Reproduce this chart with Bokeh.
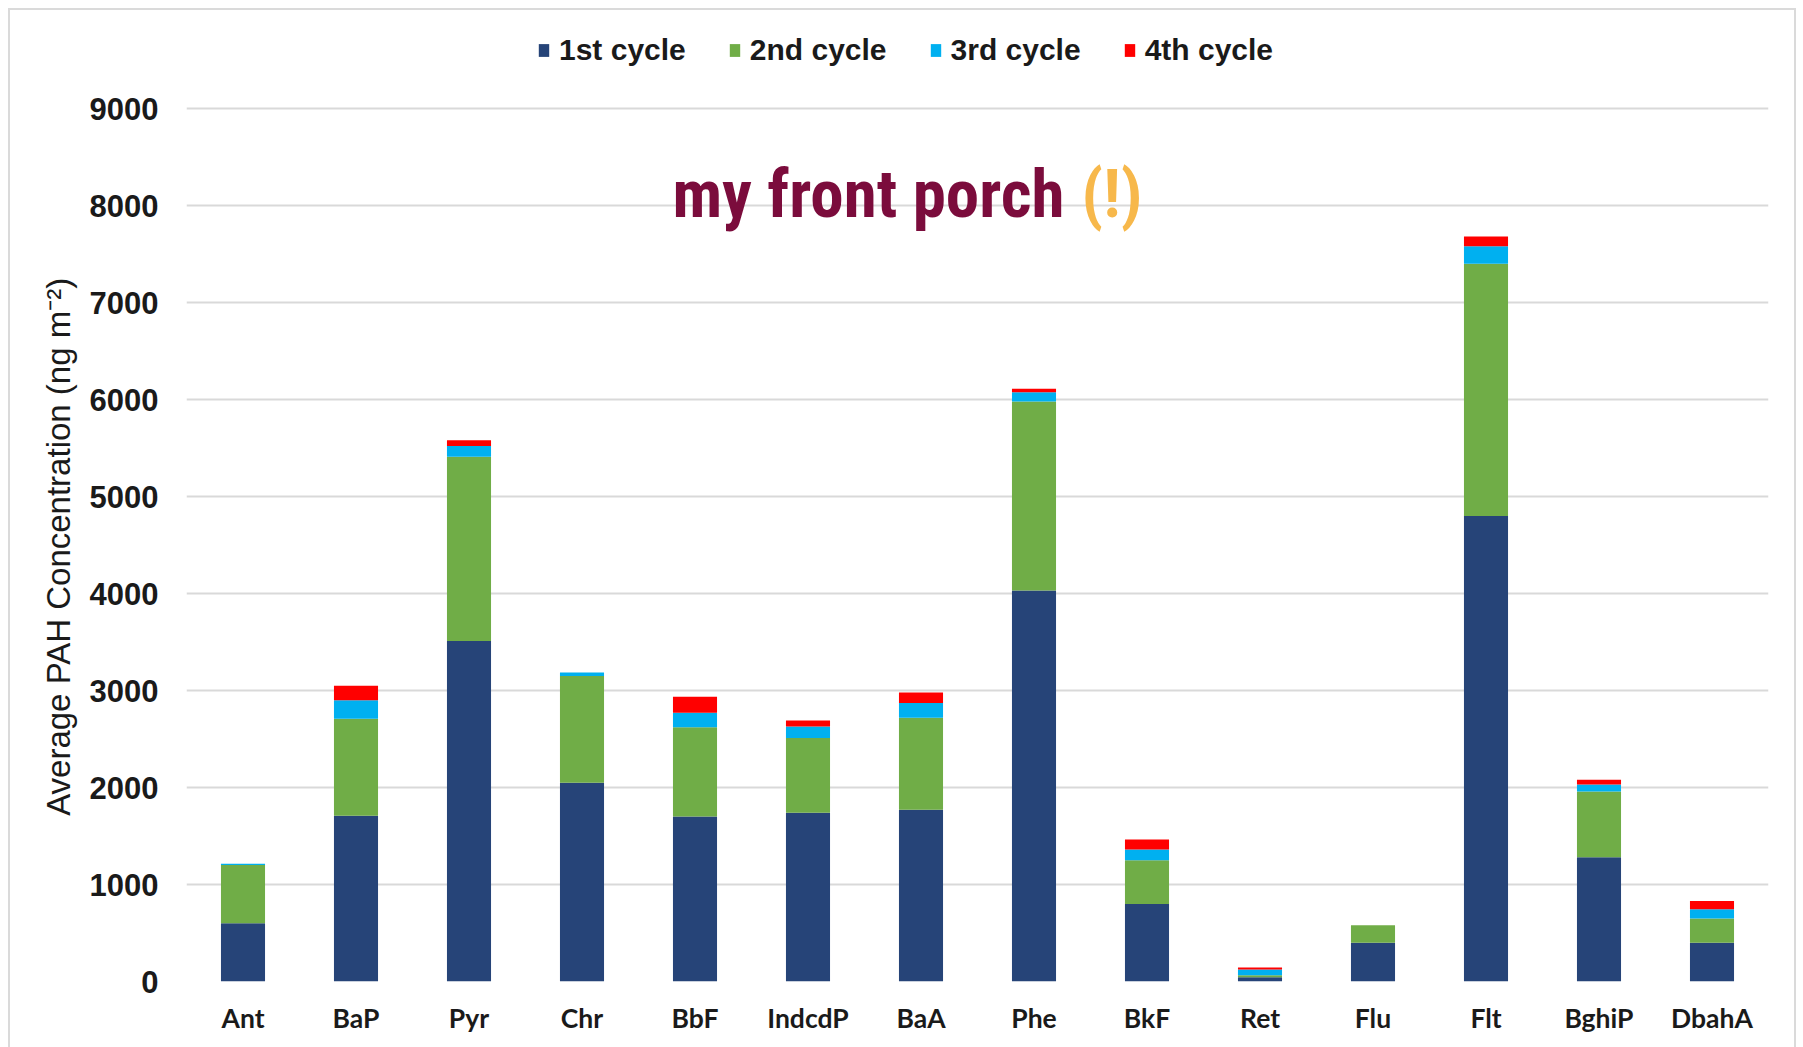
from bokeh.plotting import figure
from bokeh.models import ColumnDataSource, FactorRange, Range1d, Label, Legend, LegendItem
from bokeh.embed import file_html
from bokeh.resources import INLINE

# ---- data ----
categories = ["Ant", "BaP", "Pyr", "Chr", "BbF", "IndcdP", "BaA", "Phe",
              "BkF", "Ret", "Flu", "Flt", "BghiP", "DbahA"]
cycle1 = [600, 1710, 3510, 2050, 1700, 1740, 1770, 4030, 800, 45, 400, 4800, 1280, 400]
cycle2 = [600, 1000, 1900, 1100, 920, 770, 950, 1950, 450, 20, 180, 2600, 680, 250]
cycle3 = [15, 190, 110, 35, 150, 120, 150, 95, 110, 60, 0, 180, 70, 95]
cycle4 = [0, 150, 60, 0, 165, 60, 110, 35, 105, 20, 0, 100, 50, 85]
series_names = ["1st cycle", "2nd cycle", "3rd cycle", "4th cycle"]
y_ticks = [0, 1000, 2000, 3000, 4000, 5000, 6000, 7000, 8000, 9000]

colors = ["#264478", "#70AD47", "#00B0F0", "#FF0000"]
keys = ["c1", "c2", "c3", "c4"]

source = ColumnDataSource(dict(cat=categories, c1=cycle1, c2=cycle2, c3=cycle3, c4=cycle4))

# geometry (page pixels), figure placed OFF px in from the page corner
OFF = 10
W, H = 1784, 1037
PAGE_L, PAGE_R, PAGE_T, PAGE_B = 186, 1768, 20, 981   # plot frame on the page
GRID_9000 = 108                                        # page y of the 9000 gridline
FRAME_L, FRAME_R, FRAME_T, FRAME_B = PAGE_L - OFF, PAGE_R - OFF, PAGE_T - OFF, PAGE_B - OFF
Y_TOP = 9000 * (PAGE_B - PAGE_T) / (PAGE_B - GRID_9000)

p = figure(width=W, height=H, x_range=FactorRange(*categories), y_range=Range1d(0, Y_TOP),
           output_backend="svg", toolbar_location=None,
           min_border_left=FRAME_L, min_border_right=W - FRAME_R,
           min_border_top=FRAME_T, min_border_bottom=H - FRAME_B)
p.outline_line_color = None
p.background_fill_color = "white"
p.border_fill_color = "white"
p.styles = {"margin-left": f"{OFF}px", "margin-top": f"{OFF}px",
            "box-shadow": "0 0 0 2px #dadada"}

renderers = p.vbar_stack(keys, x="cat", width=0.39, color=colors, source=source, line_width=0)

# axes
p.xgrid.grid_line_color = None
p.ygrid.grid_line_color = "#d9d9d9"
p.ygrid.grid_line_width = 2
p.yaxis.ticker = y_ticks
for ax in (p.xaxis[0], p.yaxis[0]):
    ax.axis_line_color = None
    ax.major_tick_line_color = None
    ax.minor_tick_line_color = None
    ax.major_label_text_color = "#1a1a1a"

p.yaxis.major_label_text_font = "Liberation Sans"
p.yaxis.major_label_text_font_style = "bold"
p.yaxis.major_label_text_font_size = "31px"
p.yaxis.major_label_standoff = 22
# trailing no-break spaces keep the label centred on the 0-9000 span, not the headroom
p.yaxis.axis_label = "Average PAH Concentration (ng m\u207b\u00b2)" + "\u00a0" * 10
p.yaxis.axis_label_text_font = "Liberation Sans"
p.yaxis.axis_label_text_font_style = "normal"
p.yaxis.axis_label_text_font_size = "33px"
p.yaxis.axis_label_text_color = "#1a1a1a"
p.yaxis.axis_label_standoff = 10

p.xaxis.major_label_text_font = "Lato"
p.xaxis.major_label_text_font_style = "bold"
p.xaxis.major_label_text_font_size = "26.5px"
p.xaxis.major_label_standoff = 14

# legend in the frame's headroom above 9000
lg = Legend(items=[LegendItem(label=n, renderers=[r]) for n, r in zip(series_names, renderers)],
            orientation="horizontal", location=(537 - PAGE_L, PAGE_B - 67), margin=0, padding=0,
            spacing=42, border_line_color=None, background_fill_alpha=0,
            glyph_width=13, glyph_height=16, label_standoff=9,
            label_text_font="Liberation Sans", label_text_font_style="bold",
            label_text_font_size="30px", label_text_color="#1a1a1a")
p.add_layout(lg)

# title inside plot
title_font = "'Roboto Condensed', 'Liberation Sans Narrow', 'Roboto'"
t1 = Label(x=1064 - PAGE_L, y=PAGE_B - 193, x_units="screen", y_units="screen",
           text="my front porch", text_align="right", text_baseline="middle",
           text_font=title_font, text_font_style="bold", text_font_size="67px",
           text_color="#7B0C3C")
t2 = Label(x=1081 - PAGE_L, y=PAGE_B - 193, x_units="screen", y_units="screen",
           text="(!)", text_align="left", text_baseline="middle",
           text_font=title_font, text_font_style="bold", text_font_size="67px",
           text_color="#F7B84B")
p.add_layout(t1)
p.add_layout(t2)

html = file_html(p, INLINE)
html = html.replace("<body>", '<body style="background:#fcf9f0">', 1)
open("out.html", "w").write(html)
